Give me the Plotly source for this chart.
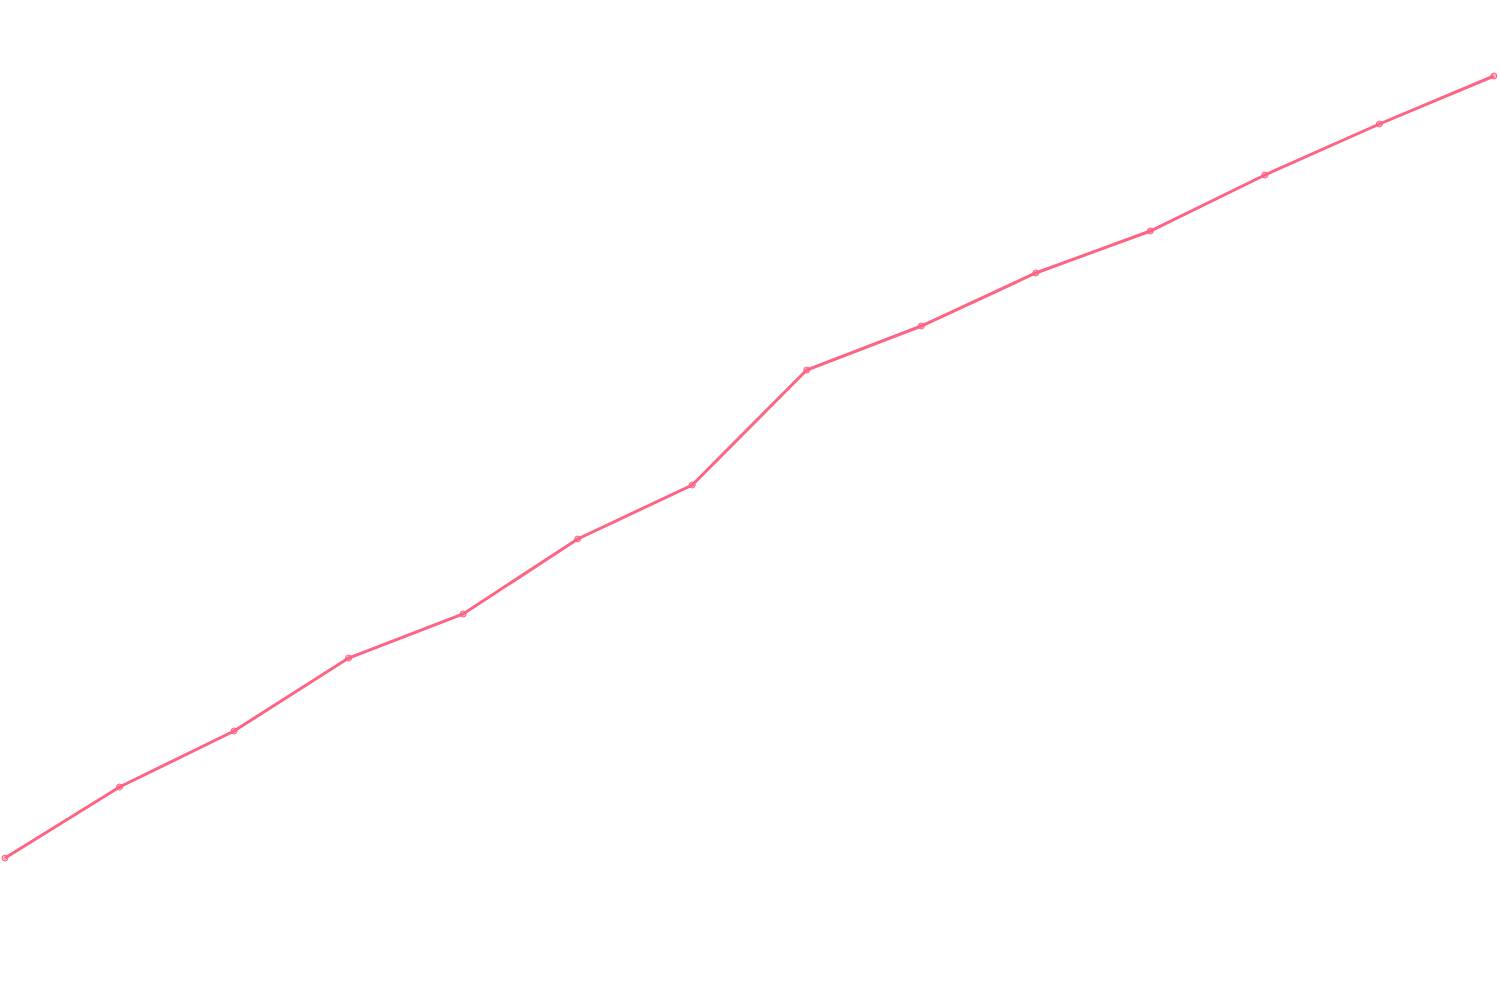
import plotly.graph_objects as go

# data (no axes shown, so the scale is arbitrary)
points = list(range(14))
values = [142, 213, 269, 342, 386, 461, 515, 630, 674, 727, 769, 825, 876, 924]

line_color = 'rgb(255, 99, 132)'

fig = go.Figure()
fig.add_trace(go.Scatter(
    x=points, y=values,
    mode='lines+markers',
    line=dict(color=line_color, width=3),
    marker=dict(size=6, color='rgba(255, 99, 132, 0.5)',
                line=dict(color=line_color, width=1)),
    cliponaxis=False,
    hoverinfo='skip',
    showlegend=False,
))

fig.update_xaxes(visible=False, range=[-0.0437, 13.053])
fig.update_yaxes(visible=False, range=[0, 1000])
fig.update_layout(
    width=1500, height=1000,
    margin=dict(l=0, r=0, t=0, b=0),
    paper_bgcolor='white', plot_bgcolor='white',
)

# drop the default page margin so the chart sits at the window's corner
fig.write_html("out.html", config={'displayModeBar': False},
               post_script="document.body.style.margin = '0';")
